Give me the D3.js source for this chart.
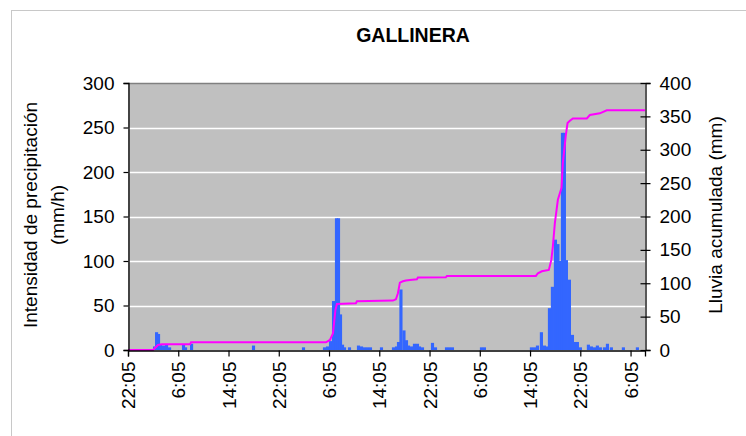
<!DOCTYPE html>
<html>
<head>
<meta charset="utf-8">
<script src="https://cdn.jsdelivr.net/npm/d3@7"></script>
<style>
    body { margin: 0; background: #fff; }
    text { font-family: Arial, "Liberation Sans", sans-serif; fill: #000; }
</style>
</head>
<body>
<svg id="chart" width="746" height="436"></svg>
<script>
//data: hours counted from the first tick (22:05)
var barHour = [3.98, 4.30, 4.61, 4.93, 5.41, 5.89, 6.37, 8.59, 8.91, 9.87, 19.73, 27.69,
    31.03, 31.51, 31.99, 32.47, 32.94, 33.26, 33.58, 33.90, 34.22, 35.01,
    36.44, 36.92, 37.40, 37.87, 38.35, 40.10, 42.01, 42.49, 42.81, 43.20, 43.68,
    44.08, 44.40, 44.88, 45.35, 45.83, 46.15, 46.63, 48.22, 48.70, 50.45, 50.92,
    51.40, 56.02, 56.49, 63.97, 64.45, 64.93, 65.56, 66.04, 66.52, 66.84, 67.31,
    67.79, 68.19, 68.59, 68.91, 69.22, 69.54, 70.02, 70.50, 70.82, 71.29, 71.77,
    73.04, 73.52, 74.00, 74.47, 74.95, 75.59, 76.07, 76.70, 78.61, 80.84];
var barValue = [4, 20, 18, 6, 5, 6, 3, 6, 3, 7, 5, 3,
    3, 4, 10, 55, 148, 148, 40, 6, 3, 3,
    5, 4, 3, 3, 3, 3, 3, 4, 9, 68, 22,
    11, 5, 4, 7, 7, 4, 3, 8, 3, 3, 3,
    3, 3, 3, 3, 3, 5, 20, 5, 4, 47, 71,
    124, 119, 100, 244, 244, 101, 79, 17, 9, 9, 3,
    6, 4, 3, 5, 3, 3, 7, 3, 3, 3];
var cumHour = [0, 3.98, 4.77, 5.41, 9.87, 10.03, 31.51, 32.15, 32.63, 33.02, 33.26,
    36.28, 36.44, 42.17, 42.65, 42.97, 43.28, 43.76, 44.24, 44.88, 45.99, 46.15,
    50.60, 50.76, 64.93, 65.25, 65.88, 66.99, 67.39, 67.63, 67.95, 68.43, 69.01,
    69.22, 69.70, 69.97, 70.34, 70.82, 73.04, 73.52, 75.11, 76.22, 82.3];
var cumValue = [0, 0, 7.5, 8.5, 8.5, 11.5, 11.5, 15, 25, 60, 69,
    70, 73, 74, 76, 85, 101, 103, 104, 105, 106, 108.5,
    109, 111, 111, 115, 118, 120, 135, 155, 190, 225, 243,
    280, 322, 340, 343.5, 347, 347, 352, 354.6, 359, 359];
var xTicks = [0, 8, 16, 24, 32, 40, 48, 56, 64, 72, 80];
var leftTicks = [0, 50, 100, 150, 200, 250, 300];
var rightTicks = [0, 50, 100, 150, 200, 250, 300, 350, 400];

var svg = d3.select("#chart"),
    pLeft = 128, pRight = 645, pTop = 83, pBottom = 350, //plot area
    barWidth = 0.5, //width of a bar in hours
    colorBars = "#3366ff",
    colorLine = "#ff00ff",
    fontSize = 19;

var x = d3.scaleLinear().domain([0, 82.3]).range([pLeft, pRight]);
var yLeft = d3.scaleLinear().domain([0, 300]).range([pBottom, pTop]);
var yRight = d3.scaleLinear().domain([0, 400]).range([pBottom, pTop]);

//outer frame
svg.append("rect")
    .attr("x", 11.5).attr("y", 10.5)
    .attr("width", 800).attr("height", 500)
    .attr("fill", "none").attr("stroke", "#c8c8c8");

//title
svg.append("text")
    .attr("x", 413).attr("y", 42)
    .attr("text-anchor", "middle")
    .style("font-size", "19.5px").style("font-weight", "bold")
    .text("GALLINERA");

//plot background
svg.append("rect")
    .attr("x", pLeft).attr("y", pTop)
    .attr("width", pRight - pLeft).attr("height", pBottom - pTop)
    .attr("fill", "#c0c0c0");

//gridlines
svg.append("g").selectAll("line")
    .data(leftTicks.slice(1, -1))
    .join("line")
    .attr("x1", pLeft).attr("x2", pRight)
    .attr("y1", function(d){ return Math.round(yLeft(d)) + 0.5; })
    .attr("y2", function(d){ return Math.round(yLeft(d)) + 0.5; })
    .attr("stroke", "#fff").attr("stroke-width", 1.5);
svg.append("line")
    .attr("x1", pLeft).attr("x2", pRight)
    .attr("y1", pTop + 0.5).attr("y2", pTop + 0.5)
    .attr("stroke", "#808080").attr("stroke-width", 1.5);

//bars
svg.append("g").selectAll("rect")
    .data(barHour)
    .join("rect")
    .attr("x", function(d){ return x(d); })
    .attr("width", function(d){ return x(d + barWidth) - x(d); })
    .attr("y", function(d, i){ return yLeft(barValue[i]); })
    .attr("height", function(d, i){ return pBottom - yLeft(barValue[i]); })
    .attr("fill", colorBars);

//cumulative line
var line = d3.line()
    .x(function(d){ return x(d); })
    .y(function(d, i){ return yRight(cumValue[i]); });
svg.append("path")
    .datum(cumHour)
    .attr("d", line)
    .attr("fill", "none")
    .attr("stroke", colorLine)
    .attr("stroke-width", 2);

//axes
var gLeft = svg.append("g")
    .attr("transform", "translate(" + (pLeft + 0.5) + ",0)")
    .call(d3.axisLeft(yLeft).tickValues(leftTicks).tickSizeOuter(0).tickSize(5).tickPadding(9));
var gRight = svg.append("g")
    .attr("transform", "translate(" + (pRight + 0.5) + ",0)")
    .call(d3.axisRight(yRight).tickValues(rightTicks).tickSizeOuter(0).tickSize(5).tickPadding(9));
gRight.selectAll(".tick line").attr("x1", -5);
var gBottom = svg.append("g")
    .attr("transform", "translate(0," + (pBottom + 0.5) + ")")
    .call(d3.axisBottom(x).tickValues(xTicks).tickSizeOuter(0).tickSize(6)
        .tickFormat(function(d){
            var m = (22 * 60 + 5 + d * 60) % 1440;
            return Math.floor(m / 60) + ":" + d3.format("02")(m % 60);
        }));
gBottom.selectAll(".tick text")
    .attr("transform", "rotate(-90)")
    .attr("text-anchor", "end")
    .attr("x", -11).attr("y", 0)
    .attr("dy", "0.35em");

[gLeft, gRight, gBottom].forEach(function(g){
    g.select(".domain").attr("stroke", "#000").attr("stroke-width", 1.3);
    g.selectAll(".tick line").attr("stroke", "#000").attr("stroke-width", 1.2);
    g.selectAll("text").style("font-size", fontSize + "px").attr("fill", "#000")
        .style("font-family", "Arial, 'Liberation Sans', sans-serif");
});

//axis titles
svg.append("text")
    .attr("transform", "translate(30,215) rotate(-90)")
    .attr("text-anchor", "middle").attr("dy", "0.35em")
    .style("font-size", fontSize + "px")
    .text("Intensidad de precipitación");
svg.append("text")
    .attr("transform", "translate(57,215) rotate(-90)")
    .attr("text-anchor", "middle").attr("dy", "0.35em")
    .style("font-size", fontSize + "px")
    .text("(mm/h)");
svg.append("text")
    .attr("transform", "translate(715,215) rotate(-90)")
    .attr("text-anchor", "middle").attr("dy", "0.35em")
    .style("font-size", fontSize + "px")
    .text("Lluvia acumulada (mm)");
</script>
</body>
</html>
